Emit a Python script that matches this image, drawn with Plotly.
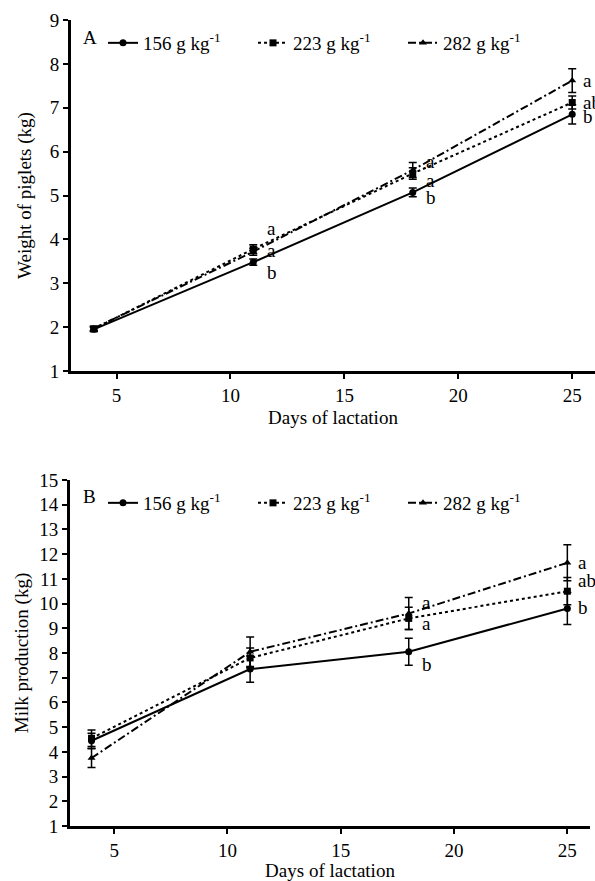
import plotly.graph_objects as go

days = [4, 11, 18, 25]
series_names = ["156 g kg<sup>-1</sup>", "223 g kg<sup>-1</sup>", "282 g kg<sup>-1</sup>"]

# Panel A: weight of piglets (kg)
wA_156 = [1.95, 3.48, 5.07, 6.85]
wA_223 = [1.96, 3.78, 5.50, 7.12]
wA_282 = [1.97, 3.72, 5.58, 7.62]
eA_156 = [0.05, 0.07, 0.10, 0.22]
eA_223 = [0.05, 0.10, 0.13, 0.15]
eA_282 = [0.05, 0.08, 0.17, 0.27]

# Panel B: milk production (kg)
wB_156 = [4.45, 7.35, 8.05, 9.80]
wB_223 = [4.55, 7.80, 9.40, 10.50]
wB_282 = [3.75, 8.05, 9.60, 11.65]
eB_156 = [0.30, 0.53, 0.55, 0.65]
eB_223 = [0.33, 0.40, 0.45, 0.55]
eB_282 = [0.38, 0.60, 0.65, 0.73]

# significance letters (x, y, text)
letA_x = [11.5, 11.5, 11.5, 18.5, 18.5, 18.5, 25.4, 25.4, 25.4]
letA_y = [4.25, 3.75, 3.25, 5.78, 5.35, 4.95, 7.62, 7.12, 6.8]
letA_t = ["a", "a", "b", "a", "a", "b", "a", "ab", "b"]
letB_x = [18.5, 18.5, 18.5, 25.4, 25.4, 25.4]
letB_y = [10.05, 9.2, 7.55, 11.65, 10.95, 9.85]
letB_t = ["a", "a", "b", "a", "ab", "b"]

FONT = "Liberation Serif"
FS = 19
styles = [
    dict(dash="solid", symbol="circle"),
    dict(dash="dot", symbol="square"),
    dict(dash="8px,3px,2px,3px", symbol="triangle-up"),
]

fig = go.Figure()

def add_panel(vals, errs, xa, ya, legend):
    for name, v, e, st in zip(series_names, vals, errs, styles):
        fig.add_trace(go.Scatter(
            x=days, y=v, name=name, mode="lines+markers",
            xaxis=xa, yaxis=ya, legend=legend,
            line=dict(color="black", width=2, dash=st["dash"]),
            marker=dict(color="black", size=7, symbol=st["symbol"]),
            error_y=dict(type="data", array=e, color="black", thickness=1.5, width=4),
        ))

add_panel([wA_156, wA_223, wA_282], [eA_156, eA_223, eA_282], "x", "y", "legend")
add_panel([wB_156, wB_223, wB_282], [eB_156, eB_223, eB_282], "x2", "y2", "legend2")

H = 881.0
W = 595.0
axis_common = dict(
    showline=True, linecolor="black", linewidth=3, ticks="outside", ticklen=5,
    tickwidth=2, tickcolor="black", showgrid=False, zeroline=False, automargin=False,
    tickfont=dict(family=FONT, size=FS, color="black"),
)

fig.update_layout(
    width=595, height=881, margin=dict(l=0, r=0, t=0, b=0),
    paper_bgcolor="white", plot_bgcolor="white",
    font=dict(family=FONT, size=FS, color="black"),
    xaxis=dict(axis_common, domain=[71 / W, 1.0], range=[3, 26], tickvals=[5, 10, 15, 20, 25],
               anchor="y", title=dict(text="Days of lactation", font=dict(family=FONT, size=FS), standoff=6)),
    yaxis=dict(axis_common, domain=[1 - 371 / H, 1 - 20 / H], range=[1, 9], dtick=1,
               anchor="x", title=dict(text="Weight of piglets (kg)", font=dict(family=FONT, size=FS), standoff=14)),
    xaxis2=dict(axis_common, domain=[70 / W, 590 / W], range=[3.05, 26], tickvals=[5, 10, 15, 20, 25],
                anchor="y2", title=dict(text="Days of lactation", font=dict(family=FONT, size=FS), standoff=6)),
    yaxis2=dict(axis_common, domain=[1 - 826 / H, 1 - 480 / H], range=[1, 15], dtick=1,
                anchor="x2", title=dict(text="Milk production (kg)", font=dict(family=FONT, size=FS), standoff=6)),
    legend=dict(orientation="h", x=103 / W, y=1 - 24 / H, xanchor="left", yanchor="top",
                entrywidth=105, font=dict(family=FONT, size=FS), bgcolor="rgba(0,0,0,0)", itemwidth=30),
    legend2=dict(orientation="h", x=103 / W, y=1 - 484 / H, xanchor="left", yanchor="top",
                 entrywidth=105, font=dict(family=FONT, size=FS), bgcolor="rgba(0,0,0,0)", itemwidth=30),
)

anns = [
    dict(text="A", x=81 / W, y=1 - 37 / H, xref="paper", yref="paper", showarrow=False,
         xanchor="left", yanchor="middle", font=dict(family=FONT, size=FS)),
    dict(text="B", x=81 / W, y=1 - 496 / H, xref="paper", yref="paper", showarrow=False,
         xanchor="left", yanchor="middle", font=dict(family=FONT, size=FS)),
]
for x, y, t in zip(letA_x, letA_y, letA_t):
    anns.append(dict(text=t, x=x, y=y, xref="x", yref="y", showarrow=False, xanchor="left",
                     yanchor="middle", font=dict(family=FONT, size=FS)))
for x, y, t in zip(letB_x, letB_y, letB_t):
    anns.append(dict(text=t, x=x, y=y, xref="x2", yref="y2", showarrow=False, xanchor="left",
                     yanchor="middle", font=dict(family=FONT, size=FS)))
fig.update_layout(annotations=anns)

fig.write_html("out.html", config={"displayModeBar": False},
               post_script="document.body.style.margin='0px';document.body.style.overflow='hidden';")
